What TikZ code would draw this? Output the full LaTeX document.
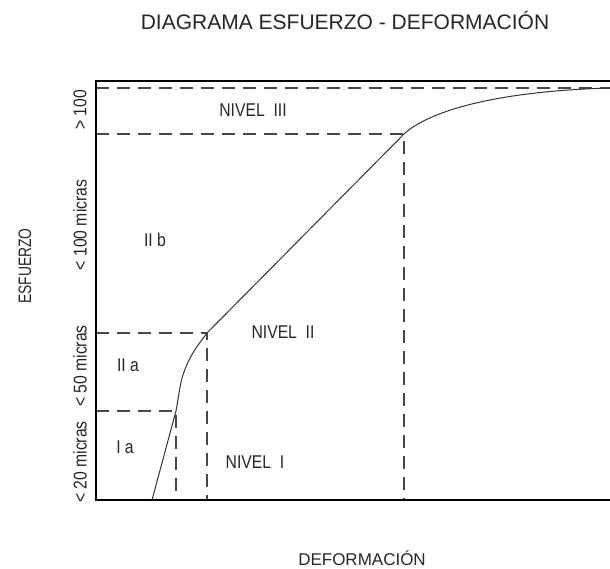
\documentclass[tikz,border=0pt]{standalone}
\usepackage{fontspec}
\setmainfont{Liberation Sans}
\newfontfamily\narrowf[FakeStretch=0.85]{Liberation Sans}
\newfontfamily\narrowerf[FakeStretch=0.77]{Liberation Sans}
\begin{document}
\begin{tikzpicture}[x=1pt,y=-1pt,
  axisline/.style={line width=2.4pt,black},
  guide/.style={line width=1.4pt,color=black!72,dash pattern=on 13pt off 8pt},
  curveline/.style={line width=1pt,color=black!80},
  lbl/.style={inner sep=0pt,font=\narrowf\fontsize{18.5}{20}\selectfont,text=black!85},
  ticklbl/.style={inner sep=0pt,rotate=90,font=\narrowf\fontsize{18.5}{20}\selectfont,text=black!85}]
\useasboundingbox (0,0) rectangle (610,569);
% coordinates
\coordinate (o) at (96,500);
\coordinate (tl) at (96,81);
\coordinate (tr) at (610,81);
\coordinate (br) at (610,500);
\coordinate (c0) at (152,500);
\coordinate (c1) at (176,411);
\coordinate (c2) at (207,333);
\coordinate (c3) at (404,134);
\coordinate (c4) at (610,88);
% guides
\draw[guide] (96,88) -- (c4);
\draw[guide] (96,134) -- (c3) -- (404,500);
\draw[guide] (96,333) -- (c2) -- (207,500);
\draw[guide] (96,411) -- (c1) -- (176,500);
% axes
\draw[axisline] (tr) -- (tl) -- (o) -- (br);
% curve
\draw[curveline] (c0) -- (c1) .. controls (179,395) and (180,382) .. (184,372)
  .. controls (190,355) and (198,345) .. (c2) -- (c3)
  .. controls (430,110) and (500,91) .. (c4);
% texts
\node[inner sep=0pt,font=\fontsize{21}{24}\selectfont,text=black!85] (title) at (345,21) {DIAGRAMA ESFUERZO - DEFORMACIÓN};
\node[inner sep=0pt,font=\fontsize{17}{19}\selectfont,text=black!85] (xlab) at (362,558) {DEFORMACIÓN};
\node[inner sep=0pt,rotate=90,font=\narrowerf\fontsize{18}{20}\selectfont,text=black!85] (ylab) at (25,266) {ESFUERZO};
\node[ticklbl] (t1) at (80,110) {> 100};
\node[ticklbl] (t2) at (80,225) {< 100 micras};
\node[ticklbl] (t3) at (80,366) {< 50 micras};
\node[ticklbl] (t4) at (80,462) {< 20 micras};
\node[lbl] (n3) at (253,110) {NIVEL\ \ III};
\node[lbl] (n2) at (283,332) {NIVEL\ \ II};
\node[lbl] (n1) at (255,462) {NIVEL\ \ I};
\node[lbl] (iib) at (155,240) {II b};
\node[lbl] (iia) at (128,365) {II a};
\node[lbl] (ia) at (125,447) {I a};
\end{tikzpicture}
\end{document}
